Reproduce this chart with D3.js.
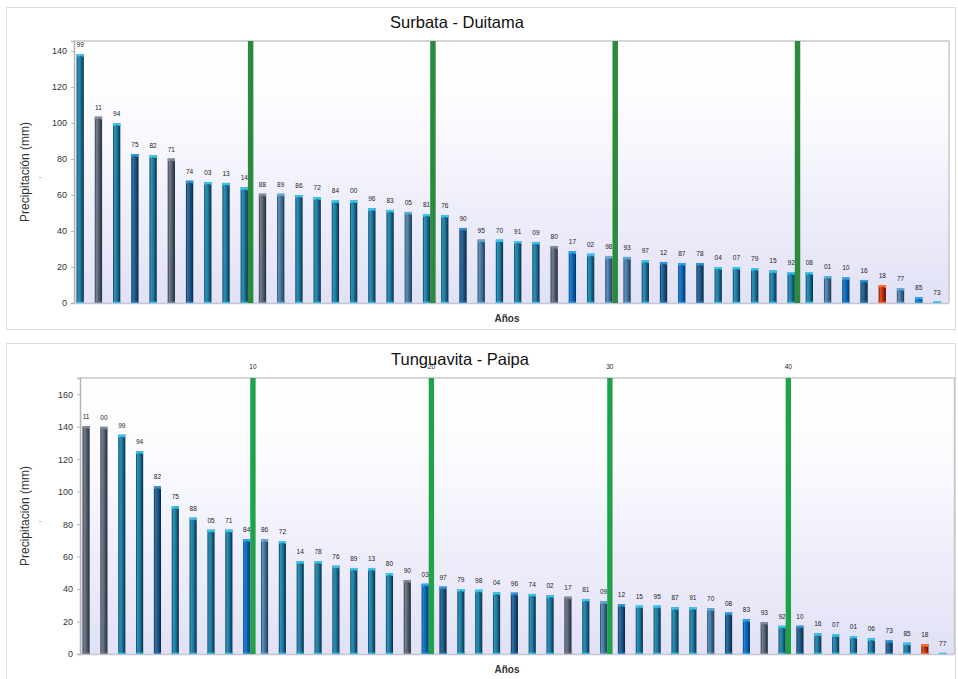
<!DOCTYPE html>
<html>
<head>
<meta charset="utf-8">
<script src="https://cdn.jsdelivr.net/npm/d3@7"></script>
<style>
	body { margin:0; background:#fff; font-family:"Liberation Sans", Arial, sans-serif; }
</style>
</head>
<body>
<div id="chart"></div>
<script>

// Surbata - Duitama (sorted, year labels as two digits)
var surbataAnios = ["99","11","94","75","82","71","74","03","13","14",
	"88","89","86","72","84","00","96","83","05","81",
	"76","90","95","70","91","09","80","17","02","98",
	"93","97","12","87","78","04","07","79","15","92",
	"08","01","10","16","18","77","85","73"];
var surbataValores = [138.3,103.5,99.8,82.6,82.0,80.2,67.9,67.2,66.7,64.2,
	60.7,60.7,60.0,58.7,57.0,57.0,52.6,51.7,50.6,49.4,
	48.9,41.7,35.2,35.2,34.4,33.9,31.5,28.7,27.4,25.9,
	25.6,23.7,22.8,22.2,22.2,20.0,20.0,19.4,18.1,17.2,
	17.2,15.0,14.2,12.8,10.0,8.3,3.3,0.7];
var surbataColores = ["t","g","t","d","t","g","d","t","t","t",
	"g","s","t","t","t","t","t","t","s","t",
	"t","d","s","t","t","t","g","b","t","s",
	"s","t","d","b","d","t","t","t","t","t",
	"t","s","b","d","r","s","b","t"];

// Tunguavita - Paipa
var tunguavitaAnios = ["11","00","99","94","82","75","88","05","71","84",
	"86","72","14","78","76","89","13","80","90","03",
	"97","79","98","04","96","74","02","17","81","09",
	"12","15","95","87","91","70","08","83","93","92",
	"10","16","07","01","06","73","85","18","77"];
var tunguavitaValores = [140.3,139.9,135.1,124.9,103.3,91.0,84.0,76.6,76.6,70.7,
	70.7,69.6,57.1,57.1,54.4,53.0,53.0,49.7,45.6,43.3,
	41.5,40.0,39.6,38.0,37.8,37.0,36.2,35.3,33.9,32.5,
	30.6,29.8,29.8,28.8,28.9,28.2,25.5,21.4,19.7,17.4,
	17.4,12.7,12.1,11.1,9.7,8.4,7.0,6.0,0.4];
var tunguavitaColores = ["g","g","t","t","d","t","t","t","t","b",
	"s","t","t","t","t","t","t","t","g","b",
	"d","t","t","t","d","t","t","g","t","s",
	"d","t","t","t","t","s","d","b","g","t",
	"d","t","t","t","t","d","t","r","t"];

// marker series (every 10th position)
var marcas = [10,20,30,40];

// bar shading: left edge -> highlight -> body -> right edge, plus cap colour
var tonos = {
	t: ["#0e3e55","#2d93b8","#1c7da3","#134f6c","#0c2a3b","#38c6f0"],
	g: ["#2e3744","#75818f","#586474","#3a4452","#222931","#808b9a"],
	d: ["#0f2c48","#2f72a4","#1e5a8c","#143e62","#0b2236","#2f95d6"],
	s: ["#22415c","#6192b9","#44779f","#2e5474","#1b3246","#62acda"],
	b: ["#063e75","#1c84d4","#0a68b8","#064c8c","#032f58","#30a4ee"],
	r: ["#5a1200","#e65020","#c23208","#8a1e02","#480d00","#ff7038"]
};

var W = 958, H = 679;

var svg = d3.select("#chart").append("svg")
	.attr("width",W).attr("height",H)
	.style("font-family","'Liberation Sans', Arial, sans-serif");

var defs = svg.append("defs");

var bg = defs.append("linearGradient").attr("id","fondo")
	.attr("x1",0).attr("y1",0).attr("x2",0).attr("y2",1);
bg.append("stop").attr("offset","0%").attr("stop-color","#ffffff");
bg.append("stop").attr("offset","25%").attr("stop-color","#fcfcff");
bg.append("stop").attr("offset","100%").attr("stop-color","#e1e1f6");

Object.keys(tonos).forEach(function(k) {
	var g = defs.append("linearGradient").attr("id","barra-" + k)
		.attr("x1",0).attr("y1",0).attr("x2",1).attr("y2",0);
	var offs = ["0%","22%","50%","80%","100%"];
	for (var i = 0; i < 5; i++) {
		g.append("stop").attr("offset",offs[i]).attr("stop-color",tonos[k][i]);
	}
});

function panel(cfg) {

	// frame
	svg.append("rect")
		.attr("x",cfg.box[0]).attr("y",cfg.box[1])
		.attr("width",cfg.box[2]).attr("height",cfg.box[3])
		.attr("fill","#fff").attr("stroke","#dcdcdc");

	var x = d3.scaleBand()
		.domain(d3.range(cfg.anios.length))
		.range([cfg.x0,cfg.x1]);
	var y = d3.scaleLinear().domain([0,cfg.ymax]).range([cfg.y1,cfg.y0]);
	var step = x.step();
	var off = 0.14*step, bw = 0.4*step, gw = 0.3*step;

	var g = svg.append("g");

	g.append("rect")
		.attr("x",cfg.x0).attr("y",cfg.y0)
		.attr("width",cfg.x1-cfg.x0).attr("height",cfg.y1-cfg.y0)
		.attr("fill","url(#fondo)");

	// plot border (top / right)
	g.append("path")
		.attr("d","M" + cfg.x0 + "," + cfg.y0 + "H" + cfg.x1 + "V" + cfg.y1)
		.attr("fill","none").attr("stroke","#c8c8c8").attr("stroke-width",1.5);

	var yAxis = g.append("g")
		.attr("transform","translate(" + cfg.x0 + ",0)")
		.call(d3.axisLeft(y).tickValues(d3.range(0,cfg.ymax,20)).tickSize(3).tickPadding(4));
	yAxis.select(".domain").attr("stroke","#b4b4b4").attr("stroke-width",1.5);
	yAxis.selectAll(".tick line").attr("stroke","#b4b4b4");
	yAxis.selectAll("text").attr("font-size",9).attr("fill","#333")
		.attr("font-family","'Liberation Sans', Arial, sans-serif");

	g.append("line")
		.attr("x1",cfg.x0).attr("x2",cfg.x1)
		.attr("y1",cfg.y1+0.5).attr("y2",cfg.y1+0.5)
		.attr("stroke","#c6c6d2").attr("stroke-width",1.5);

	// bars
	var bars = g.selectAll(".barra").data(cfg.valores).enter().append("g").attr("class","barra");

	bars.append("rect")
		.attr("x",function(d,i) { return x(i)+off; })
		.attr("y",function(d) { return y(d); })
		.attr("width",bw)
		.attr("height",function(d) { return cfg.y1 - y(d); })
		.attr("fill",function(d,i) { return "url(#barra-" + cfg.colores[i] + ")"; });

	// top cap
	bars.append("path")
		.attr("d",function(d,i) {
			var xl = x(i)+off, yt = y(d), h = Math.min(3, cfg.y1 - yt);
			return "M" + xl + "," + yt + "h" + bw + "v" + h + "l" + (-bw/2) + "," + (-h*0.4) + "l" + (-bw/2) + "," + (h*0.4) + "Z";
		})
		.attr("fill",function(d,i) { return tonos[cfg.colores[i]][5]; });

	// bottom cap
	bars.append("rect")
		.attr("x",function(d,i) { return x(i)+off; })
		.attr("y",cfg.y1-1.5)
		.attr("width",bw).attr("height",1.5)
		.attr("fill",function(d,i) { return tonos[cfg.colores[i]][5]; })
		.attr("opacity",0.8);

	// year labels
	g.selectAll(".etiqueta").data(cfg.anios).enter().append("text")
		.attr("class","etiqueta")
		.attr("x",function(d,i) { return x(i)+off+bw/2; })
		.attr("y",function(d,i) { return y(cfg.valores[i]) - 7; })
		.attr("text-anchor","middle")
		.attr("font-size",6.5).attr("fill","#222")
		.text(function(d) { return d; });

	// green marker bars
	g.selectAll(".marca").data(marcas).enter().append("rect")
		.attr("class","marca")
		.attr("x",function(d) { return x(d-1)+off+bw; })
		.attr("y",cfg.y0)
		.attr("width",gw)
		.attr("height",cfg.y1-cfg.y0)
		.attr("fill",cfg.verde);

	if (cfg.marcaEtiquetas) {
		g.selectAll(".marcaTxt").data(marcas).enter().append("text")
			.attr("x",function(d) { return x(d-1)+off+bw+gw/2; })
			.attr("y",cfg.y0-9)
			.attr("text-anchor","middle")
			.attr("font-size",6.5).attr("fill","#222")
			.text(function(d) { return d; });
	}

	// titles
	svg.append("text")
		.attr("x",cfg.tituloX).attr("y",cfg.tituloY)
		.attr("text-anchor","middle")
		.attr("font-size",16.5).attr("fill","#111")
		.text(cfg.titulo);

	var ym = (cfg.y0+cfg.y1)/2;
	svg.append("text")
		.attr("transform","translate(29," + ym + ") rotate(-90)")
		.attr("text-anchor","middle")
		.attr("font-size",12).attr("fill","#333")
		.text("Precipitación (mm)");

	svg.append("text")
		.attr("x",40).attr("y",ym+6)
		.attr("text-anchor","middle")
		.attr("font-size",9).attr("fill","#555")
		.text(".");

	svg.append("text")
		.attr("x",507).attr("y",cfg.y1+19)
		.attr("text-anchor","middle")
		.attr("font-size",10).attr("font-weight","bold").attr("fill","#333")
		.text("Años");
}

panel({
	box:[6.5,7.5,949,322],
	x0:74, x1:949, y0:41, y1:303, ymax:145.5,
	anios:surbataAnios, valores:surbataValores, colores:surbataColores,
	verde:"#2b8a3c", marcaEtiquetas:false,
	titulo:"Surbata - Duitama", tituloX:457, tituloY:28
});

panel({
	box:[6.5,343.5,949,340],
	x0:80, x1:954.5, y0:378, y1:654, ymax:170,
	anios:tunguavitaAnios, valores:tunguavitaValores, colores:tunguavitaColores,
	verde:"#1ea34a", marcaEtiquetas:true,
	titulo:"Tunguavita - Paipa", tituloX:460, tituloY:365
});

</script>
</body>
</html>
